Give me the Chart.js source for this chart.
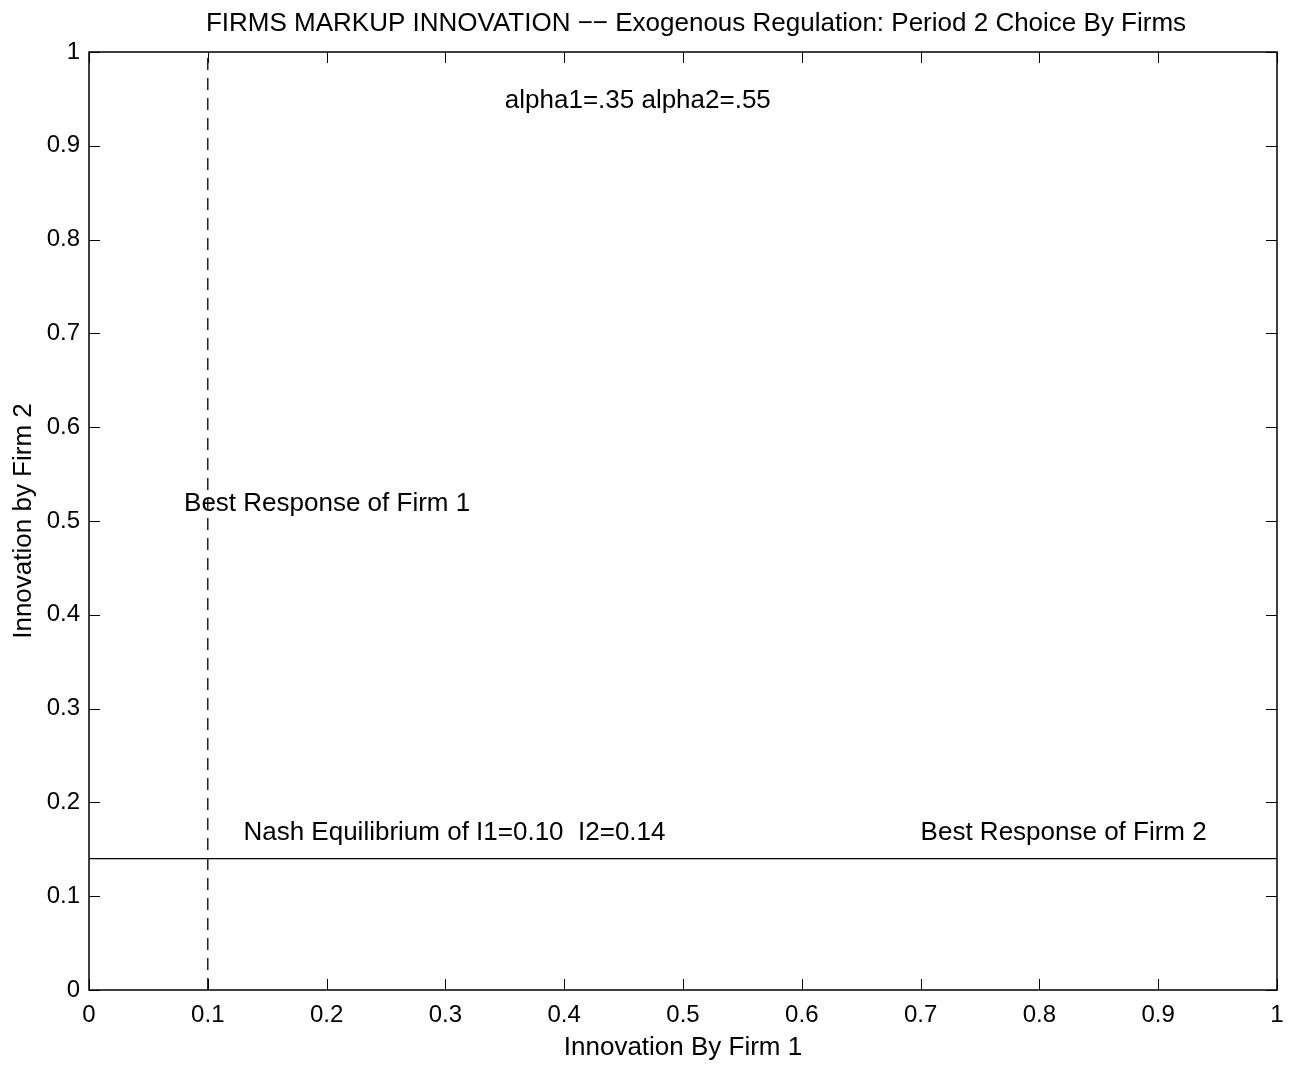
<!DOCTYPE html>
<html>
<head>
<meta charset="utf-8">
<title>Firms markup innovation</title>
<script src="https://cdn.jsdelivr.net/npm/chart.js@4.4.0/dist/chart.umd.min.js"></script>
<style>
  html, body { margin: 0; padding: 0; background: #fff; }
  #wrap { width: 1299px; height: 1066px; }
</style>
</head>
<body>
<div id="wrap"><canvas id="chart-firms" width="1299" height="1066"></canvas></div>
<script>
// axis ticks
const xTicks = [0, 0.1, 0.2, 0.3, 0.4, 0.5, 0.6, 0.7, 0.8, 0.9, 1];
const xTickLabels = ['0', '0.1', '0.2', '0.3', '0.4', '0.5', '0.6', '0.7', '0.8', '0.9', '1'];
const yTicks = [0, 0.1, 0.2, 0.3, 0.4, 0.5, 0.6, 0.7, 0.8, 0.9, 1];
const yTickLabels = ['0', '0.1', '0.2', '0.3', '0.4', '0.5', '0.6', '0.7', '0.8', '0.9', '1'];

// best response of firm 1 (dashed, vertical at I1 = 0.10)
const br1X = [0.1, 0.1];
const br1Y = [0, 1];
// best response of firm 2 (solid, horizontal at I2 = 0.14)
const br2X = [0, 1];
const br2Y = [0.14, 0.14];

// text notes placed in data coordinates
const noteTexts = ['alpha1=.35 alpha2=.55', 'Best Response of Firm 1', 'Nash Equilibrium of I1=0.10  I2=0.14', 'Best Response of Firm 2'];
const noteX = [0.35, 0.08, 0.13, 0.70];
const noteY = [0.95, 0.52, 0.17, 0.17];

const chartTitle = 'FIRMS MARKUP INNOVATION \u2212\u2212 Exogenous Regulation: Period 2 Choice By Firms';

const FONT = '"Liberation Sans", Arial, Helvetica, sans-serif';

const toPoints = (xs, ys) => xs.map((x, i) => ({ x: x, y: ys[i] }));

// box, inward ticks, title and the text notes, matlab style
const matlabFrame = {
  id: 'matlabFrame',
  afterDatasetsDraw(chart) {
    const { ctx, chartArea: a, scales: { x, y } } = chart;
    const tick = 11;
    ctx.save();
    ctx.strokeStyle = '#000';
    ctx.lineWidth = 1;
    ctx.beginPath();
    xTicks.forEach(v => {
      const px = Math.round(x.getPixelForValue(v)) + 0.5;
      ctx.moveTo(px, a.bottom); ctx.lineTo(px, a.bottom - tick);
      ctx.moveTo(px, a.top); ctx.lineTo(px, a.top + tick);
    });
    yTicks.forEach(v => {
      const py = Math.round(y.getPixelForValue(v)) + 0.5;
      ctx.moveTo(a.left, py); ctx.lineTo(a.left + tick, py);
      ctx.moveTo(a.right, py); ctx.lineTo(a.right - tick, py);
    });
    ctx.stroke();
    ctx.lineWidth = 1.5;
    ctx.strokeRect(a.left, a.top, a.right - a.left, a.bottom - a.top);

    ctx.fillStyle = '#000';
    ctx.font = '26px ' + FONT;
    ctx.textBaseline = 'middle';
    ctx.textAlign = 'center';
    ctx.fillText(chartTitle, 696, 24);
    ctx.textAlign = 'left';
    noteTexts.forEach((t, i) => {
      ctx.fillText(t, x.getPixelForValue(noteX[i]), y.getPixelForValue(noteY[i]) + 2);
    });
    ctx.restore();
  }
};

const dataFirms = {
  datasets: [
    {
      label: 'Best Response of Firm 1',
      data: toPoints(br1X, br1Y),
      showLine: true,
      borderColor: '#000',
      borderWidth: 1.3,
      borderDash: [12, 8],
      pointRadius: 0
    },
    {
      label: 'Best Response of Firm 2',
      data: toPoints(br2X, br2Y),
      showLine: true,
      borderColor: '#000',
      borderWidth: 1.3,
      pointRadius: 0
    }
  ]
};

const configFirms = {
  type: 'scatter',
  data: dataFirms,
  options: {
    responsive: false,
    animation: false,
    layout: { padding: { left: 0, right: 22, top: 52, bottom: 0 } },
    plugins: {
      legend: { display: false },
      tooltip: { enabled: false },
      title: { display: false }
    },
    scales: {
      x: {
        type: 'linear',
        min: 0,
        max: 1,
        afterBuildTicks: s => { s.ticks = xTicks.map(v => ({ value: v })); },
        afterFit: s => { s.height = 76; },
        ticks: {
          color: '#000',
          font: { family: FONT, size: 24 },
          padding: 11,
          maxRotation: 0,
          callback: (v, i) => xTickLabels[i]
        },
        grid: { display: false, drawTicks: false },
        border: { display: false },
        title: {
          display: true,
          text: 'Innovation By Firm 1',
          color: '#000',
          font: { family: FONT, size: 26 },
          padding: { top: 0, bottom: 3 }
        }
      },
      y: {
        type: 'linear',
        min: 0,
        max: 1,
        afterBuildTicks: s => { s.ticks = yTicks.map(v => ({ value: v })); },
        afterFit: s => { s.width = 89; },
        ticks: {
          color: '#000',
          font: { family: FONT, size: 24 },
          padding: 9,
          callback: (v, i) => yTickLabels[i]
        },
        grid: { display: false, drawTicks: false },
        border: { display: false },
        title: {
          display: true,
          text: 'Innovation by Firm 2',
          color: '#000',
          font: { family: FONT, size: 26 },
          padding: { top: 8, bottom: 0 }
        }
      }
    }
  },
  plugins: [matlabFrame]
};

const myChartFirms = new Chart(document.getElementById('chart-firms'), configFirms);
</script>
</body>
</html>
